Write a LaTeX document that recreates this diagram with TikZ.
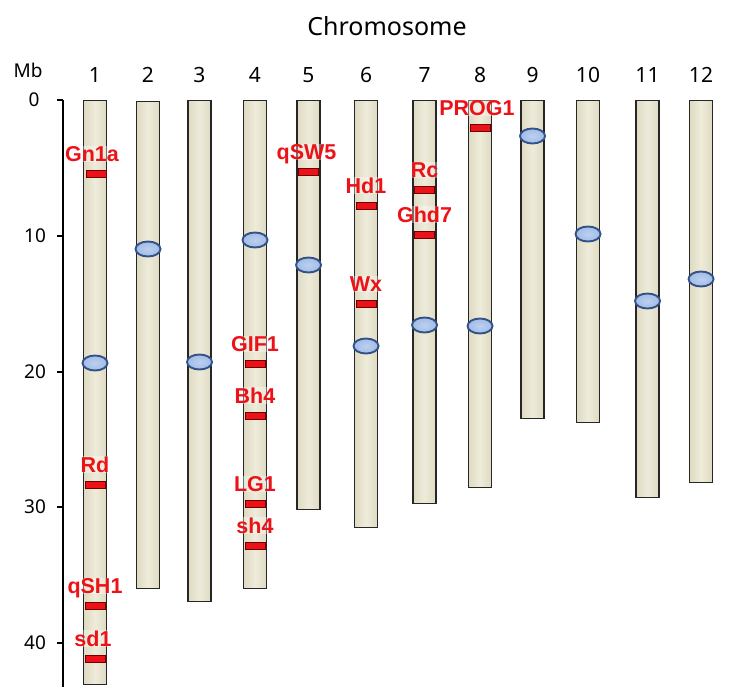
\documentclass[tikz,border=0pt]{standalone}
\usepackage{fontspec}
\setmainfont{Noto Sans}
\newfontfamily\genefont{Liberation Sans}
\usetikzlibrary{positioning, shapes.geometric}

\definecolor{chrside}{RGB}{222,218,194}
\definecolor{chrmid}{RGB}{238,235,218}
\definecolor{cenfill}{RGB}{160,188,232}
\definecolor{cenline}{RGB}{52,82,134}
\definecolor{genered}{RGB}{236,18,24}
\definecolor{genedark}{RGB}{110,0,0}

\begin{document}
\begin{tikzpicture}[
    x=1pt, y=-1pt,
    every node/.style={font=\fontsize{19}{19}\selectfont},
    chrom/.style={rectangle, draw=black!85, line width=1.1pt, minimum width=23pt,
        anchor=north, inner sep=0pt, left color=chrside, right color=chrside, middle color=chrmid},
    chr/.style={chrom, minimum height=#1},
    cen/.style={ellipse, draw=cenline, line width=1.9pt, inner color=cenfill!70!white,
        outer color=cenfill, minimum width=25pt, minimum height=15pt, inner sep=0pt},
    gene/.style={rectangle, draw=genedark, line width=0.7pt, fill=genered,
        minimum width=20pt, minimum height=7pt, inner sep=0pt},
    genelab/.style={font=\genefont\fontsize{21.5}{21.5}\selectfont\bfseries, text=genered, inner sep=0.5pt,
        text depth=0pt, fill=white, fill opacity=0.35, text opacity=1},
    chrnum/.style={font=\fontsize{21}{21}\selectfont},
    mbtick/.style={font=\fontsize{19}{19}\selectfont},
    axisline/.style={line width=1.8pt}
]
    \useasboundingbox (0,0) rectangle (730,688);

    % title and column numbers
    \node[font=\fontsize{25}{25}\selectfont] (title) at (387,26) {Chromosome};
    \node[mbtick] (mb) at (28,70) {Mb};
    \node[chrnum] (n1) at (95,75) {1};
    \node[chrnum] (n2) at (148,75) {2};
    \node[chrnum] (n3) at (199.5,75) {3};
    \node[chrnum] (n4) at (255,75) {4};
    \node[chrnum] (n5) at (308.5,75) {5};
    \node[chrnum] (n6) at (366,75) {6};
    \node[chrnum] (n7) at (424.5,75) {7};
    \node[chrnum] (n8) at (480,75) {8};
    \node[chrnum] (n9) at (532.5,75) {9};
    \node[chrnum] (n10) at (588,75) {10};
    \node[chrnum] (n11) at (647.5,75) {11};
    \node[chrnum] (n12) at (701,75) {12};

    % Mb axis
    \coordinate (axtop) at (63,100);
    \coordinate (axbot) at (63,687);
    \draw[axisline] (axtop) -- (axbot);
    \node[mbtick] (t0) at (34,100) {0};
    \node[mbtick] (t10) at (35,236) {10};
    \node[mbtick] (t20) at (35,372) {20};
    \node[mbtick] (t30) at (35,507) {30};
    \node[mbtick] (t40) at (35,643) {40};
    \draw[axisline] (57,100) -- (63,100);
    \draw[axisline] (57,236) -- (63,236);
    \draw[axisline] (57,372) -- (63,372);
    \draw[axisline] (57,507) -- (63,507);
    \draw[axisline] (57,643) -- (63,643);

    % chromosomes
    \node[chr=584pt] (c1) at (95,100) {};
    \node[chr=487pt] (c2) at (148,101) {};
    \node[chr=501pt] (c3) at (199.5,100) {};
    \node[chr=488pt] (c4) at (255,100) {};
    \node[chr=409pt] (c5) at (308.5,100) {};
    \node[chr=427pt] (c6) at (366,100) {};
    \node[chr=403pt] (c7) at (424.5,100) {};
    \node[chr=387pt] (c8) at (480,100) {};
    \node[chr=318pt] (c9) at (532.5,100) {};
    \node[chr=322pt] (c10) at (588,100) {};
    \node[chr=397pt] (c11) at (647.5,100) {};
    \node[chr=382pt] (c12) at (701,100) {};

    % centromeres
    \node[cen] (cen1) at (95,363) {};
    \node[cen] (cen2) at (148,249) {};
    \node[cen] (cen3) at (199.5,362) {};
    \node[cen] (cen4) at (255,240) {};
    \node[cen] (cen5) at (308.5,265) {};
    \node[cen] (cen6) at (366,346) {};
    \node[cen] (cen7) at (424.5,325) {};
    \node[cen] (cen8) at (480,326) {};
    \node[cen] (cen9) at (532.5,136) {};
    \node[cen] (cen10) at (588,234) {};
    \node[cen] (cen11) at (647.5,301) {};
    \node[cen] (cen12) at (701,279) {};

    % genes
    \node[gene] (gn1a) at (96,174) {};
    \node[gene] (rd) at (95,485) {};
    \node[gene] (qsh1) at (95,606) {};
    \node[gene] (sd1) at (95,659) {};
    \node[gene] (gif1) at (255,364) {};
    \node[gene] (bh4) at (255,416) {};
    \node[gene] (lg1) at (255,504) {};
    \node[gene] (sh4) at (255,546) {};
    \node[gene] (qsw5) at (308.5,172) {};
    \node[gene] (hd1) at (366,206) {};
    \node[gene] (wx) at (366,304) {};
    \node[gene] (rc) at (424.5,190) {};
    \node[gene] (ghd7) at (424.5,235) {};
    \node[gene] (prog1) at (480,128) {};

    \node[genelab, above=8pt of gn1a, xshift=-4pt] (gn1a-lab) {Gn1a};
    \node[genelab, above=8pt of rd] (rd-lab) {Rd};
    \node[genelab, above=8pt of qsh1] (qsh1-lab) {qSH1};
    \node[genelab, above=8pt of sd1, xshift=-2pt] (sd1-lab) {sd1};
    \node[genelab, above=8pt of gif1] (gif1-lab) {GIF1};
    \node[genelab, above=8pt of bh4] (bh4-lab) {Bh4};
    \node[genelab, above=8pt of lg1] (lg1-lab) {LG1};
    \node[genelab, above=8pt of sh4] (sh4-lab) {sh4};
    \node[genelab, above=8pt of qsw5, xshift=-2pt] (qsw5-lab) {qSW5};
    \node[genelab, above=8pt of hd1] (hd1-lab) {Hd1};
    \node[genelab, above=8pt of wx] (wx-lab) {Wx};
    \node[genelab, above=8pt of rc] (rc-lab) {Rc};
    \node[genelab, above=8pt of ghd7] (ghd7-lab) {Ghd7};
    \node[genelab, above=8pt of prog1, xshift=-3pt] (prog1-lab) {PROG1};
\end{tikzpicture}
\end{document}
